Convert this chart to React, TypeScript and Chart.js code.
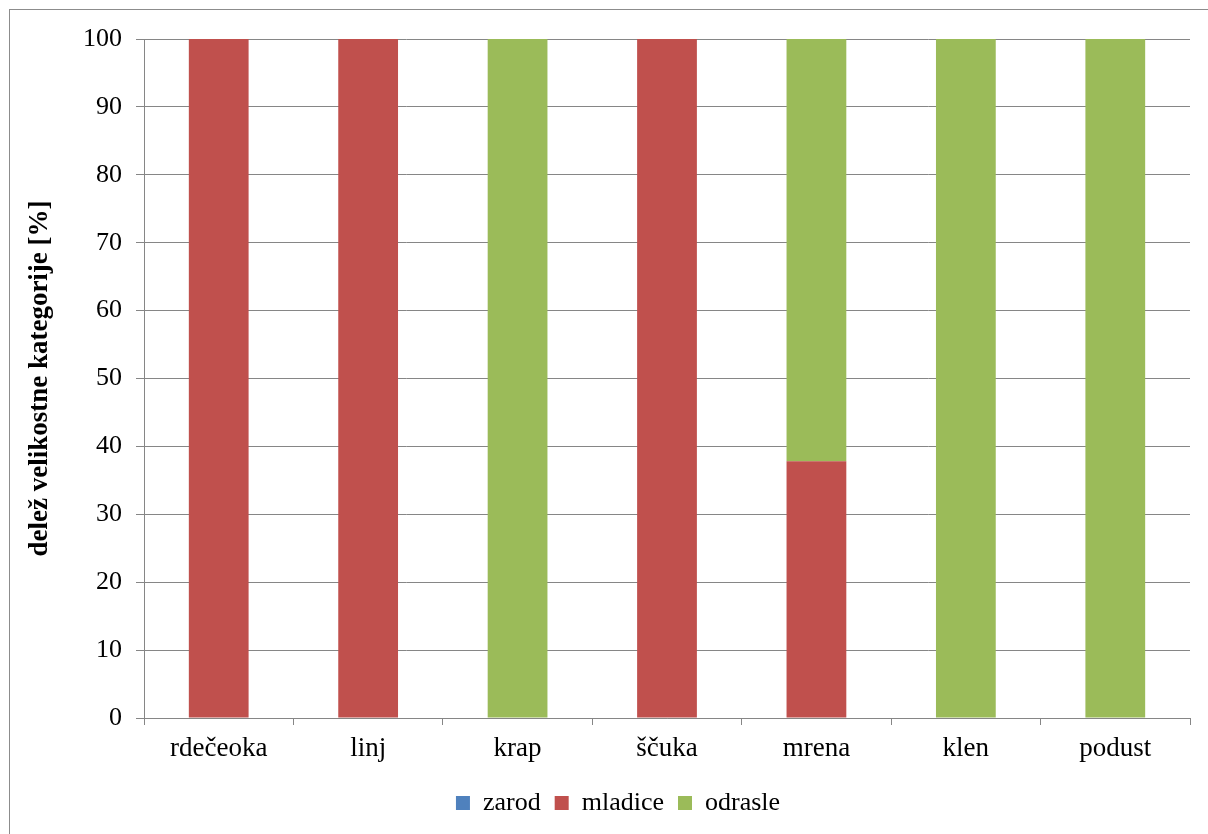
import React, { useEffect, useRef } from "react";
import { Chart, registerables } from "chart.js";

Chart.register(...registerables);

const categories = ["rdečeoka", "linj", "krap", "ščuka", "mrena", "klen", "podust"];
const zarod = [0, 0, 0, 0, 0, 0, 0];
const mladice = [100, 100, 0, 100, 37.8, 0, 0];
const odrasle = [0, 0, 100, 0, 62.2, 100, 100];
const yTitle = "delež velikostne kategorije [%]";

const FONT = "'Liberation Serif', 'Times New Roman', serif";
const GRID = "#868686";

const legendShift = {
  id: "legendShift",
  afterLayout(chart: any) {
    if (chart.legend) {
      chart.legend.left += 13;
      chart.legend.right += 13;
    }
  },
};

export default function App() {
  const ref = useRef<HTMLCanvasElement>(null);
  useEffect(() => {
    if (!ref.current) return;
    const chart = new Chart(ref.current, {
      type: "bar",
      data: {
        labels: categories,
        datasets: [
          { label: "zarod", data: zarod, backgroundColor: "#4F81BD" },
          { label: "mladice", data: mladice, backgroundColor: "#C0504D" },
          { label: "odrasle", data: odrasle, backgroundColor: "#9BBB59" },
        ],
      },
      plugins: [legendShift],
      options: {
        responsive: false,
        animation: false,
        layout: { padding: { left: 20, right: 18, top: 39, bottom: 8 } },
        datasets: { bar: { categoryPercentage: 1, barPercentage: 0.4 } },
        plugins: {
          tooltip: { enabled: false },
          legend: {
            position: "bottom",
            labels: {
              color: "#000",
              font: { family: FONT, size: 26 },
              boxWidth: 14,
              boxHeight: 14,
              padding: 14,
            },
          },
        },
        scales: {
          x: {
            stacked: true,
            grid: {
              display: true,
              drawOnChartArea: false,
              drawTicks: true,
              tickLength: 7,
              color: GRID,
              offset: true,
            },
            border: { display: true, color: GRID, width: 1 },
            ticks: { color: "#000", font: { family: FONT, size: 27 }, padding: 8, maxRotation: 0 },
            afterFit: (s: any) => {
              s.height = 58;
            },
          },
          y: {
            stacked: true,
            min: 0,
            max: 100,
            grid: { color: GRID, tickLength: 8, drawTicks: true },
            border: { display: true, color: GRID, width: 1 },
            ticks: { stepSize: 10, color: "#000", font: { family: FONT, size: 26 }, padding: 14 },
            title: {
              display: true,
              text: yTitle,
              color: "#000",
              font: { family: FONT, size: 27, weight: "bold" },
              padding: { top: 4, bottom: 4 },
            },
            afterFit: (s: any) => {
              s.width = 124;
            },
          },
        },
      },
    });
    return () => chart.destroy();
  }, []);
  return (
    <div style={{ position: "fixed", left: 0, top: 0, width: 1208, height: 834, background: "#fff", overflow: "hidden" }}>
      <div
        style={{
          position: "absolute",
          left: 9,
          top: 9,
          width: 1300,
          height: 900,
          border: "1.5px solid #8c8c8c",
        }}
      />
      <canvas ref={ref} width={1208} height={834} style={{ position: "absolute", left: 0, top: 0 }} />
    </div>
  );
}
